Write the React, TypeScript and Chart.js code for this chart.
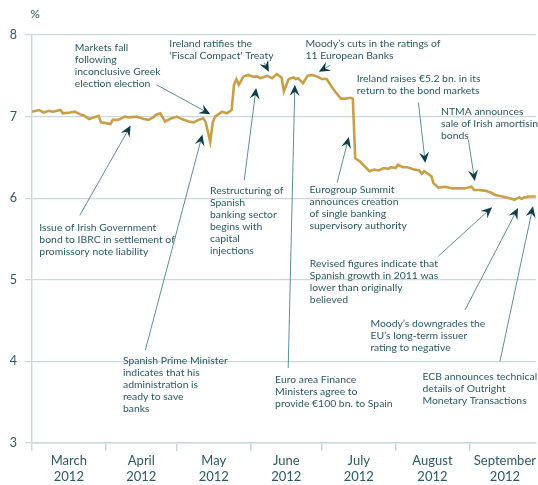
import { useEffect, useRef } from "react";
import { Chart, registerables } from "chart.js";

Chart.register(...registerables);

// Daily observations (Irish government bond yield, %)
const dates = [
  "2012-03-01", "2012-03-04", "2012-03-06", "2012-03-08", "2012-03-10", "2012-03-13", "2012-03-14",
  "2012-03-17", "2012-03-19", "2012-03-21", "2012-03-23", "2012-03-25", "2012-03-27", "2012-03-29",
  "2012-03-30", "2012-04-01", "2012-04-03", "2012-04-04", "2012-04-06", "2012-04-07", "2012-04-09",
  "2012-04-11", "2012-04-14", "2012-04-17", "2012-04-19", "2012-04-21", "2012-04-22", "2012-04-24",
  "2012-04-26", "2012-04-28", "2012-05-01", "2012-05-03", "2012-05-06", "2012-05-08", "2012-05-10",
  "2012-05-12", "2012-05-13", "2012-05-15", "2012-05-16", "2012-05-17", "2012-05-19", "2012-05-20",
  "2012-05-22", "2012-05-24", "2012-05-25", "2012-05-26", "2012-05-27", "2012-05-29", "2012-05-31",
  "2012-06-02", "2012-06-04", "2012-06-05", "2012-06-08", "2012-06-10", "2012-06-12", "2012-06-14",
  "2012-06-15", "2012-06-17", "2012-06-19", "2012-06-20", "2012-06-21", "2012-06-23", "2012-06-25",
  "2012-06-27", "2012-06-29", "2012-07-01", "2012-07-03", "2012-07-05", "2012-07-07", "2012-07-09",
  "2012-07-11", "2012-07-13", "2012-07-14", "2012-07-15", "2012-07-17", "2012-07-19", "2012-07-21",
  "2012-07-23", "2012-07-25", "2012-07-27", "2012-07-29", "2012-07-30", "2012-08-01", "2012-08-02",
  "2012-08-04", "2012-08-06", "2012-08-09", "2012-08-11", "2012-08-12", "2012-08-13", "2012-08-16",
  "2012-08-17", "2012-08-19", "2012-08-22", "2012-08-25", "2012-08-27", "2012-08-30", "2012-09-02",
  "2012-09-03", "2012-09-05", "2012-09-08", "2012-09-10", "2012-09-12", "2012-09-15", "2012-09-18",
  "2012-09-20", "2012-09-22", "2012-09-23", "2012-09-24", "2012-09-26", "2012-09-29",
];

const yields = [
  7.06, 7.08, 7.05, 7.07, 7.06, 7.08, 7.04,
  7.05, 7.06, 7.03, 7.01, 6.97, 6.99, 7.01,
  6.93, 6.92, 6.91, 6.96, 6.96, 6.97, 7.0,
  6.99, 7.0, 6.97, 6.96, 6.99, 7.02, 7.04,
  6.94, 6.97, 7.0, 6.97, 6.94, 6.93, 6.96,
  6.98, 6.94, 6.69, 6.92, 7.0, 7.04, 7.06,
  7.04, 7.08, 7.39, 7.46, 7.39, 7.49, 7.51,
  7.49, 7.49, 7.47, 7.5, 7.47, 7.52, 7.48,
  7.31, 7.46, 7.48, 7.46, 7.47, 7.41, 7.5,
  7.51, 7.49, 7.46, 7.46, 7.37, 7.29, 7.22,
  7.22, 7.23, 7.22, 6.49, 6.45, 6.39, 6.33,
  6.35, 6.34, 6.37, 6.36, 6.38, 6.37, 6.41,
  6.38, 6.38, 6.35, 6.34, 6.3, 6.33, 6.27,
  6.18, 6.13, 6.14, 6.12, 6.12, 6.12, 6.14,
  6.1, 6.1, 6.09, 6.07, 6.04, 6.02, 6.0,
  5.98, 6.01, 5.99, 6.01, 6.02, 6.02,
];

const monthNames = ["March", "April", "May", "June", "July", "August", "September"];
const yearLabel = "2012";
const yTickValues = [3, 4, 5, 6, 7, 8];
const yUnit = "%";

// Annotations: x in days since 1 March 2012, y in %.
// text = [x, y] of first line's left baseline; from/to = arrow tail/tip.
const annotations = [
  { lines: ["Markets fall", "following", "inconclusive Greek", "election election"], text: [18.0, 7.81], from: [52.4, 7.39], to: [75.0, 7.03] },
  { lines: ["Ireland ratifies the", "'Fiscal Compact' Treaty"], text: [57.8, 7.85], from: [97.7, 7.66], to: [99.7, 7.55] },
  { lines: ["Moody\u2019s cuts in the ratings of", "11 European Banks"], text: [115.1, 7.85], from: [125.6, 7.63], to: [120.7, 7.55] },
  { lines: ["Ireland raises \u20AC5.2 bn. in its", "return to the bond markets"], text: [136.6, 7.42], from: [162.6, 7.17], to: [165.5, 6.43] },
  { lines: ["NTMA announces", "sale of Irish amortising", "bonds"], text: [172.1, 7.02], from: [183.6, 6.72], to: [186.3, 6.21] },
  { lines: ["Issue of Irish Government", "bond to IBRC in settlement of", "promissory note liability"], text: [3.1, 5.6], from: [20.1, 5.79], to: [41.5, 6.89] },
  { lines: ["Spanish Prime Minister", "indicates that his", "administration is", "ready to save", "banks"], text: [38.3, 3.97], from: [47.7, 4.14], to: [71.7, 6.78] },
  { lines: ["Restructuring of", "Spanish", "banking sector", "begins with", "capital", "injections"], text: [74.9, 6.05], from: [89.3, 6.22], to: [94.3, 7.35] },
  { lines: ["Eurogroup Summit", "announces creation", "of single banking", "supervisory authority"], text: [116.8, 6.06], from: [128.4, 6.19], to: [133.3, 6.75] },
  { lines: ["Euro area Finance", "Ministers agree to", "provide \u20AC100 bn. to Spain"], text: [102.3, 3.74], from: [107.8, 3.92], to: [110.6, 7.39] },
  { lines: ["Revised figures indicate that", "Spanish growth in 2011 was", "lower than originally", "believed"], text: [116.9, 5.16], from: [171.0, 5.29], to: [193.6, 5.89] },
  { lines: ["Moody\u2019s downgrades the", "EU\u2019s long-term issuer", "rating to negative"], text: [142.4, 4.42], from: [182.2, 4.63], to: [204.5, 5.88] },
  { lines: ["ECB announces technical", "details of Outright", "Monetary Transactions"], text: [164.3, 3.77], from: [196.9, 4.0], to: [210.8, 5.9] },
];

const START = Date.UTC(2012, 2, 1);
const DAY = 86400000;
const dayOf = (iso: string) => (Date.parse(iso + "T00:00:00Z") - START) / DAY;
const X_MAX = 212.1;

const monthBounds = monthNames.map((_, i) => (Date.UTC(2012, 2 + i, 1) - START) / DAY);
const monthEnds = monthNames.map((_, i) => (Date.UTC(2012, 3 + i, 1) - START) / DAY);
const monthMids = monthBounds.map((b, i) => (b + monthEnds[i]) / 2);

const TEXT = "#2b5a66";
const GRID = "#c9d9de";
const LINE = "#c9a04a";
const ARROW_LINE = "#5f8f9a";
const ARROW_HEAD = "#0f3d48";
const FONT = "Lato, 'Open Sans', sans-serif";

function drawArrow(ctx: CanvasRenderingContext2D, x1: number, y1: number, x2: number, y2: number) {
  const ang = Math.atan2(y2 - y1, x2 - x1);
  const len = 11, half = 5, notch = 7;
  ctx.save();
  ctx.strokeStyle = ARROW_LINE;
  ctx.lineWidth = 1;
  ctx.beginPath();
  ctx.moveTo(x1, y1);
  ctx.lineTo(x2 - Math.cos(ang) * notch, y2 - Math.sin(ang) * notch);
  ctx.stroke();
  ctx.translate(x2, y2);
  ctx.rotate(ang);
  ctx.fillStyle = ARROW_HEAD;
  ctx.beginPath();
  ctx.moveTo(0, 0);
  ctx.lineTo(-len, -half);
  ctx.lineTo(-notch, 0);
  ctx.lineTo(-len, half);
  ctx.closePath();
  ctx.fill();
  ctx.restore();
}

const annotationPlugin = {
  id: "eventAnnotations",
  afterDraw(chart: any) {
    const { ctx, scales, chartArea } = chart;
    const xs = scales.x, ys = scales.y;
    ctx.save();
    ctx.fillStyle = TEXT;
    ctx.font = `12px ${FONT}`;
    ctx.textAlign = "center";
    ctx.textBaseline = "alphabetic";
    ctx.fillText(yUnit, chartArea.left + 3, chartArea.top - 17);
    ctx.textAlign = "left";
    ctx.font = `10.4px ${FONT}`;
    for (const a of annotations) {
      const tx = xs.getPixelForValue(a.text[0]);
      const ty = ys.getPixelForValue(a.text[1]);
      a.lines.forEach((ln, i) => ctx.fillText(ln, tx, ty + i * 12));
      drawArrow(
        ctx,
        xs.getPixelForValue(a.from[0]), ys.getPixelForValue(a.from[1]),
        xs.getPixelForValue(a.to[0]), ys.getPixelForValue(a.to[1])
      );
    }
    ctx.restore();
  },
};

export default function App() {
  const ref = useRef<HTMLCanvasElement | null>(null);
  useEffect(() => {
    if (!ref.current) return;
    const points = dates.map((d, i) => ({ x: dayOf(d), y: yields[i] }));
    const isBound = (v: number) => monthBounds.some((b) => Math.abs(b - v) < 1e-6);
    const chart = new Chart(ref.current, {
      type: "line",
      data: {
        datasets: [
          {
            data: points,
            borderColor: LINE,
            borderWidth: 2.6,
            pointRadius: 0,
            tension: 0,
            fill: false,
          },
        ],
      },
      options: {
        responsive: false,
        animation: false,
        devicePixelRatio: 1,
        layout: { padding: { top: 35, left: 0, right: 0, bottom: 0 } },
        plugins: { legend: { display: false }, tooltip: { enabled: false }, title: { display: false } },
        scales: {
          x: {
            type: "linear",
            min: 0,
            max: X_MAX,
            afterBuildTicks: (s: any) => {
              const vals = [...monthBounds.filter((b) => b <= X_MAX), ...monthMids].sort((a, b) => a - b);
              s.ticks = vals.map((v) => ({ value: v }));
            },
            afterFit: (s: any) => {
              s.height = 42;
            },
            ticks: {
              autoSkip: false,
              maxRotation: 0,
              minRotation: 0,
              padding: 2,
              color: TEXT,
              font: { family: FONT, size: 13, lineHeight: 1.2 },
              callback: (v: any) => {
                const idx = monthMids.findIndex((m) => Math.abs(m - v) < 1e-6);
                return idx >= 0 ? [monthNames[idx], yearLabel] : "";
              },
            },
            grid: {
              drawOnChartArea: false,
              drawTicks: true,
              tickLength: 8,
              lineWidth: 1.5,
              color: (c: any) => (c.tick && isBound(c.tick.value) ? GRID : "rgba(0,0,0,0)"),
            },
            border: { display: true, color: GRID, width: 1.5 },
          },
          y: {
            min: 3,
            max: 8,
            afterBuildTicks: (s: any) => {
              s.ticks = yTickValues.map((v) => ({ value: v }));
            },
            afterFit: (s: any) => {
              s.width = 32;
            },
            ticks: {
              padding: 8,
              color: TEXT,
              font: { family: FONT, size: 12.5 },
              callback: (v: any) => String(v),
            },
            grid: { color: GRID, lineWidth: 1.2, tickLength: 7, drawTicks: true },
            border: { display: true, color: GRID, width: 1.5 },
          },
        },
      },
      plugins: [annotationPlugin],
    });
    return () => chart.destroy();
  }, []);
  return (
    <div style={{ position: "absolute", left: 0, top: 0, width: 538, height: 485, background: "#fff" }}>
      <canvas ref={ref} width={538} height={485} style={{ display: "block" }} />
    </div>
  );
}
